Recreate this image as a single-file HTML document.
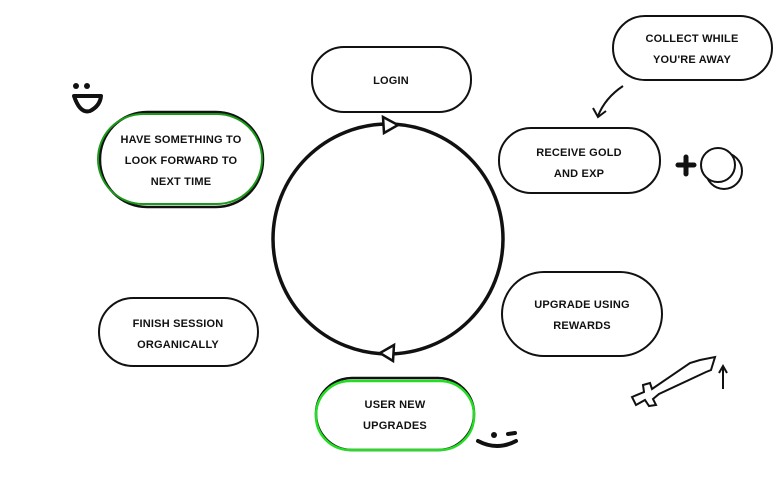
<!DOCTYPE html>
<html><head><meta charset="utf-8"><style>
html,body{margin:0;padding:0;background:#fff;}
svg{display:block}
text{font-family:"Liberation Sans",sans-serif;font-weight:bold;font-size:11px;text-transform:uppercase;fill:#111;text-anchor:middle;letter-spacing:0.2px}
</style></head><body>
<svg width="782" height="480" viewBox="0 0 782 480" xmlns="http://www.w3.org/2000/svg">
<g fill="none" stroke="#111" stroke-width="2">
<rect x="312" y="47" width="159" height="65" rx="32"/>
<rect x="613" y="16" width="159" height="64" rx="32"/>
<rect x="499" y="128" width="161" height="65" rx="32"/>
<rect x="100" y="112" width="163" height="95" rx="47" stroke-width="2.5"/>
<rect x="99" y="298" width="159" height="68" rx="34"/>
<rect x="502" y="272" width="160" height="84" rx="42"/>
<rect x="316" y="378" width="158" height="72" rx="36" stroke-width="2.5"/>
</g>
<rect x="98" y="114" width="164" height="90" rx="45" fill="none" stroke="#1a9a1a" stroke-width="2"/>
<rect x="316" y="381" width="158" height="69" rx="34" fill="none" stroke="#22dd22" stroke-width="2.5"/>
<circle cx="388" cy="239" r="115" fill="none" stroke="#111" stroke-width="3.5"/>
<polygon points="383,117 398,125 384,133" fill="#fff" stroke="#111" stroke-width="2.5"/>
<polygon points="394,345 380,353 393,361" fill="#fff" stroke="#111" stroke-width="2.5"/>
<path d="M623,86 Q605,98 598,116" fill="none" stroke="#111" stroke-width="2"/>
<path d="M593,108 L598,117 L606,111" fill="none" stroke="#111" stroke-width="2"/>
<path d="M678,165 H694 M686,157 V174" stroke="#111" stroke-width="5" stroke-linecap="round"/>
<circle cx="724" cy="171" r="18" fill="none" stroke="#111" stroke-width="2"/>
<circle cx="718" cy="165" r="17" fill="#fff" stroke="#111" stroke-width="2"/>
<path d="M632,397 L644,392 L643,385 L650,383 L652,389 L690,363 L700,360 L715,357 L711,370 L706,372 L659,394 L653,399 L656,405 L649,406 L645,400 L636,405 Z" fill="none" stroke="#111" stroke-width="2"/>
<path d="M723,389 V368 M719,373 L723,366 L727,373" fill="none" stroke="#111" stroke-width="2"/>
<circle cx="76" cy="86" r="3" fill="#111"/><circle cx="87" cy="86" r="3" fill="#111"/>
<path d="M74,96 Q80,114 90,111 Q100,106 101,96 Z" fill="#fff" stroke="#111" stroke-width="4" stroke-linejoin="round"/>
<circle cx="494" cy="435" r="3" fill="#111"/>
<path d="M508,434 L515,433" stroke="#111" stroke-width="4" stroke-linecap="round"/>
<path d="M478,441 Q497,451 516,441" fill="none" stroke="#111" stroke-width="4" stroke-linecap="round"/>
<text x="391" y="84">Login</text>
<text x="692" y="42">Collect while</text>
<text x="692" y="63">you're away</text>
<text x="579" y="156">Receive Gold</text>
<text x="579" y="177">and Exp</text>
<text x="181" y="143">Have something to</text>
<text x="181" y="164">look forward to</text>
<text x="181" y="185">next time</text>
<text x="178" y="327">Finish session</text>
<text x="178" y="348">organically</text>
<text x="582" y="308">upgrade using</text>
<text x="582" y="329">rewards</text>
<text x="395" y="408">User new</text>
<text x="395" y="429">upgrades</text>
</svg>
</body></html>
